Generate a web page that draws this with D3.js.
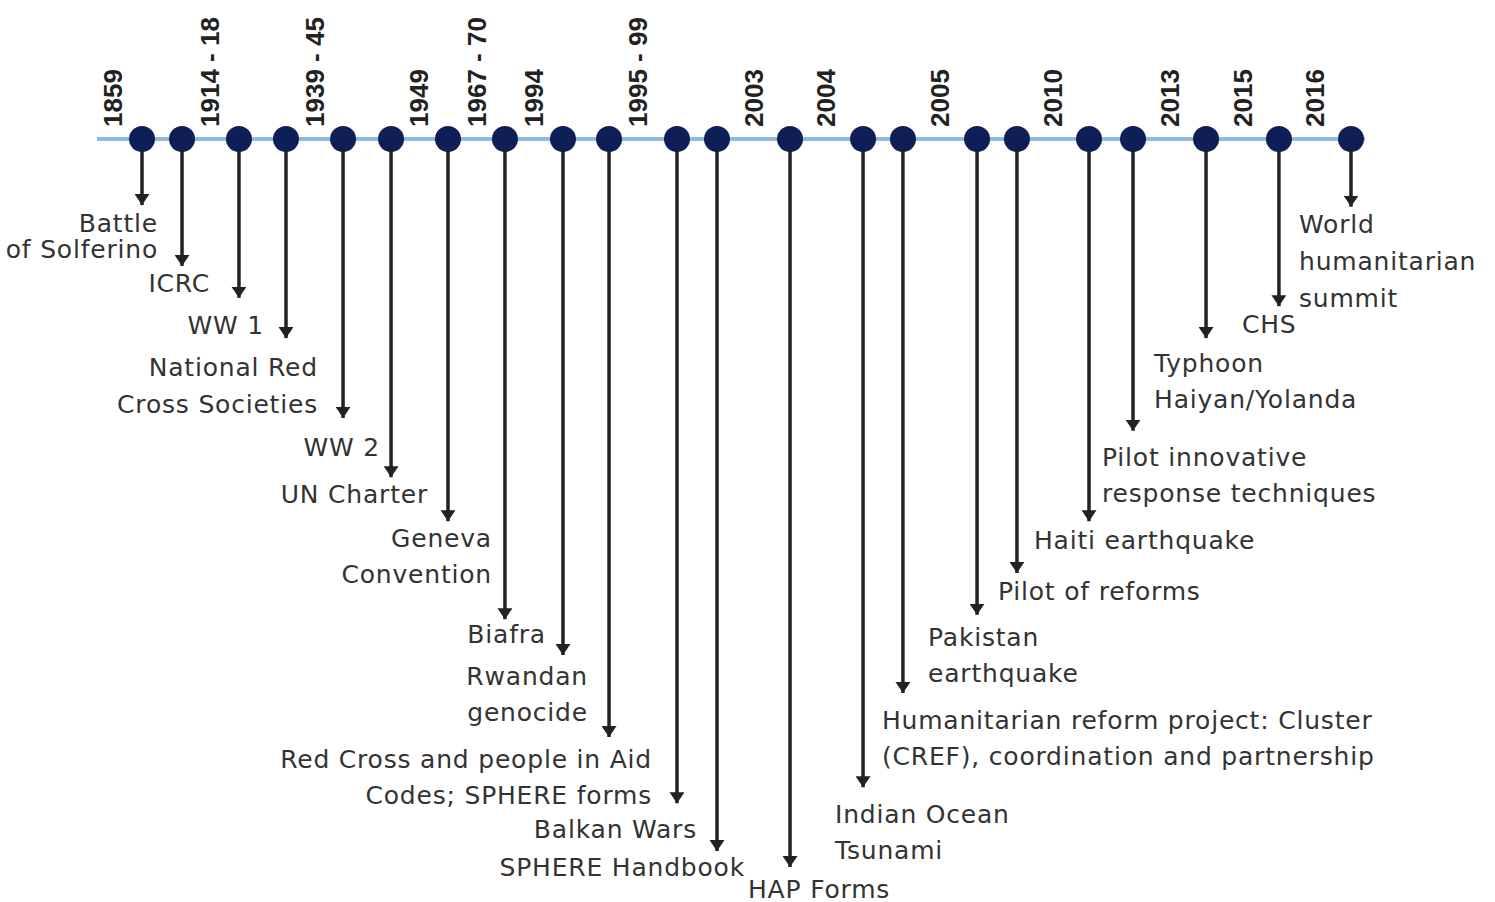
<!DOCTYPE html>
<html>
<head>
<meta charset="utf-8">
<script src="https://cdn.jsdelivr.net/npm/d3@7"></script>
<style>
  body { margin: 0; background: #fff; }
  svg { display: block; }
</style>
</head>
<body>
<script>
// events along the timeline, in order
var events = [
  ["Battle", "of Solferino"],
  ["ICRC"],
  ["WW 1"],
  ["National Red", "Cross Societies"],
  ["WW 2"],
  ["UN Charter"],
  ["Geneva", "Convention"],
  ["Biafra"],
  ["Rwandan", "genocide"],
  ["Red Cross and people in Aid", "Codes; SPHERE forms"],
  ["Balkan Wars"],
  ["SPHERE Handbook"],
  ["HAP Forms"],
  ["Indian Ocean", "Tsunami"],
  ["Humanitarian reform project: Cluster", "(CREF), coordination and partnership"],
  ["Pakistan", "earthquake"],
  ["Pilot of reforms"],
  ["Haiti earthquake"],
  ["Pilot innovative", "response techniques"],
  ["Typhoon", "Haiyan/Yolanda"],
  ["CHS"],
  ["World", "humanitarian", "summit"]
];
// position of each event along the line (0-100)
var eventPos = [0, 3.31, 8.02, 11.91, 16.63, 20.6, 25.31, 30.02, 34.82, 38.63, 44.25,
                47.56, 53.6, 59.64, 62.94, 69.07, 72.37, 78.33, 81.97, 88.01, 94.04, 100];
// how far each arrow drops below the line (0-100)
var eventDepth = [8.7, 16.7, 20.9, 26.2, 36.7, 44.5, 50.3, 63.2, 67.9, 78.7, 87.4,
                  93.7, 95.8, 85.3, 72.9, 62.6, 57.1, 50.3, 38.4, 26.2, 22.0, 8.9];

// year tick labels and where they sit on the line
var years = ["1859", "1914 - 18", "1939 - 45", "1949", "1967 - 70", "1994", "1995 - 99",
             "2003", "2004", "2005", "2010", "2013", "2015", "2016"];
var yearPos = [-2.4, 5.62, 14.31, 22.91, 27.71, 32.42, 41.03, 50.62, 56.58, 66.0,
               75.35, 85.03, 91.07, 97.02];

// label placement: anchor, x offset from stem, baseline offset from arrow tip, line gap
var labelAnchor = ["end","end","end","end","end","end","end","end","end","end","end","end",
                   "start","start","start","start","start","start","start","start","start","start"];
var labelDx = [16, 28, 25, 32, 37, 37, 44, 41, 25, 43, 20, 28,
               -42, -28, -21, -49, -19, -55, -31, -52, -37, -52];
var labelDy = [27, 26, 36, 38, 38, 26, 26, 24, 30, 31, 35, 25, 31, 36, 36, 31, 27, 28, 35, 34, 27, 26];
var labelGap = [26, 36, 36, 37, 36, 36, 36, 36, 36, 36, 36, 36, 36, 36, 36, 36, 36, 36, 36, 36, 36, 37];

var width = 1495, height = 902;
var lineY = 139;

var x = d3.scaleLinear().domain([0, 100]).range([142, 1351]);
var y = d3.scaleLinear().domain([0, 100]).range([lineY, 899]);

var svg = d3.select("body").append("svg")
    .attr("width", width)
    .attr("height", height);

svg.append("defs").append("marker")
    .attr("id", "arrow")
    .attr("viewBox", "0 0 11 15")
    .attr("refX", 11).attr("refY", 7.5)
    .attr("markerUnits", "userSpaceOnUse")
    .attr("markerWidth", 11).attr("markerHeight", 15)
    .attr("orient", "auto")
  .append("path")
    .attr("d", "M0,0 L11,7.5 L0,15 Z")
    .attr("fill", "#222");

// the base line
svg.append("line")
    .attr("x1", 97).attr("x2", 1365)
    .attr("y1", lineY).attr("y2", lineY)
    .attr("stroke", "#8dbae3")
    .attr("stroke-width", 4);

var data = events.map(function(lines, i) {
  return {lines: lines, pos: eventPos[i], depth: eventDepth[i],
          anchor: labelAnchor[i], dx: labelDx[i], dy: labelDy[i], gap: labelGap[i]};
});

// stems with arrows
svg.selectAll(".stem")
    .data(data)
    .enter()
    .append("line")
    .attr("class", "stem")
    .attr("x1", function(d) { return x(d.pos); })
    .attr("x2", function(d) { return x(d.pos); })
    .attr("y1", lineY)
    .attr("y2", function(d) { return y(d.depth); })
    .attr("stroke", "#222")
    .attr("stroke-width", 3.5)
    .attr("marker-end", "url(#arrow)");

// dots
svg.selectAll(".dot")
    .data(data)
    .enter()
    .append("circle")
    .attr("class", "dot")
    .attr("cx", function(d) { return x(d.pos); })
    .attr("cy", lineY)
    .attr("r", 13)
    .attr("fill", "#0e1e56");

// event labels
var labels = svg.selectAll(".label")
    .data(data)
    .enter()
    .append("text")
    .attr("class", "label")
    .attr("text-anchor", function(d) { return d.anchor; })
    .attr("font-family", "'DejaVu Sans', sans-serif")
    .attr("font-size", 25)
    .attr("letter-spacing", 0.8)
    .attr("fill", "#333");

labels.selectAll("tspan")
    .data(function(d) {
      return d.lines.map(function(t, j) {
        return {t: t, x: x(d.pos) + d.dx, y: y(d.depth) + d.dy + j * d.gap};
      });
    })
    .enter()
    .append("tspan")
    .attr("x", function(d) { return d.x; })
    .attr("y", function(d) { return d.y; })
    .text(function(d) { return d.t; });

// year labels, rotated
svg.selectAll(".year")
    .data(years)
    .enter()
    .append("text")
    .attr("class", "year")
    .attr("transform", function(d, i) { return "translate(" + x(yearPos[i]) + ",127) rotate(-90)"; })
    .attr("dy", "0.36em")
    .attr("font-family", "'Liberation Sans', Arial, sans-serif")
    .attr("font-weight", "bold")
    .attr("font-size", 26)
    .attr("fill", "#222")
    .text(function(d) { return d; });
</script>
</body>
</html>
